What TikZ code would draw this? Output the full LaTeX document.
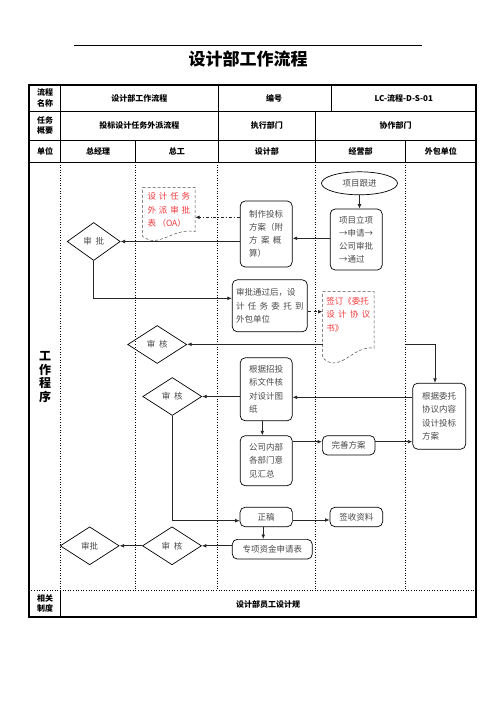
\documentclass[tikz,border=0pt]{standalone}
\usepackage{fontspec}
\setmainfont{Noto Sans CJK SC}
\usetikzlibrary{shapes.geometric,arrows.meta}
\definecolor{boxtext}{HTML}{4A4A4A}
\definecolor{doctext}{HTML}{F0383C}
\tikzset{
  hdr/.style={font=\bfseries\fontsize{8}{10.5}\selectfont, align=center, inner sep=0pt},
  box/.style={draw=black, line width=0.7pt, rounded corners=5pt, align=left, inner sep=0pt,
              text=boxtext, font=\fontsize{8.5}{13.2}\selectfont},
  dia/.style={draw=black, line width=0.7pt, diamond, inner sep=0pt, minimum width=59pt,
              minimum height=38pt, text=boxtext, font=\fontsize{8.5}{10}\selectfont},
  doctxt/.style={align=left, inner sep=0pt, text=doctext, font=\fontsize{8.5}{13.3}\selectfont},
  docshape/.style={draw=black!70, densely dashed, line width=0.5pt},
  arr/.style={-{Latex[length=4.5pt,width=3.8pt]}, line width=0.8pt, draw=black!85},
  lane/.style={line width=0.6pt, dotted},
  rule/.style={line width=0.7pt}
}
\begin{document}
\begin{tikzpicture}[x=1pt,y=-1pt]
\useasboundingbox (0,0) rectangle (496,702);
\fill[white] (0,0) rectangle (496,702);

% title
\draw[line width=0.8pt] (74,45) -- (422,45);
\node[font=\bfseries\fontsize{17}{17}\selectfont, inner sep=0pt] (title) at (248,58.5) {设计部工作流程};

% table frame
\draw[rule] (28.7,111) -- (476,111);
\draw[rule] (28.7,140) -- (476,140);
\draw[rule] (28.7,162) -- (476,162);
\draw[lane] (28.7,590) -- (476,590);
\foreach \x in {60.7,218,331.7} \draw[rule] (\x,85) -- (\x,111);
\foreach \x in {60.7,218,315.7} \draw[rule] (\x,111) -- (\x,140);
\foreach \x in {60.7,135.7,218,315.7,405.7} \draw[rule] (\x,140) -- (\x,162);
\foreach \x in {60.7,135.7,217.3,315.7,405.7} \draw[lane] (\x,162) -- (\x,590);
\draw[rule] (60.7,590) -- (60.7,617);
\draw[line width=1.6pt] (28.7,85) rectangle (476,617);

% header texts
\node[hdr] (h1) at (45,98) {流程\\名称};
\node[hdr] (h2) at (139.4,98) {设计部工作流程};
\node[hdr] (h3) at (274,98) {编号};
\node[hdr] (h4) at (403.8,98) {LC-流程-D-S-01};
\node[hdr] (h5) at (45,125.5) {任务\\概要};
\node[hdr] (h6) at (139.4,125.5) {投标设计任务外派流程};
\node[hdr] (h7) at (266.8,125.5) {执行部门};
\node[hdr] (h8) at (395.7,125.5) {协作部门};
\node[hdr] (u0) at (45,151) {单位};
\node[hdr] (u1) at (98.2,151) {总经理};
\node[hdr] (u2) at (176.8,151) {总工};
\node[hdr] (u3) at (266.8,151) {设计部};
\node[hdr] (u4) at (360.7,151) {经营部};
\node[hdr] (u5) at (440.8,151) {外包单位};
\node[font=\bfseries\fontsize{12}{13.7}\selectfont, align=center, inner sep=0pt] (lbl) at (45,377) {工\\作\\程\\序};
\node[hdr] (b1) at (45,603.5) {相关\\制度};
\node[hdr] (b2) at (268,604) {设计部员工设计规};

% flow nodes
\node[draw=black, line width=0.7pt, ellipse, minimum width=76pt, minimum height=23pt, inner sep=0pt,
      text=boxtext, font=\fontsize{8.5}{10}\selectfont] (gj) at (359.5,183.3) {项目跟进};
\node[box, minimum width=52pt, minimum height=61pt] (lx) at (356.2,239.5) {项目立项\\→申请→\\公司审批\\→通过};
\node[box, minimum width=52pt, minimum height=66pt] (zz) at (266.2,234) {制作投标\\方案（附\\方\,\ 案\,\ 概\\算）};

% document 1
\draw[docshape] (142.7,187.3) -- (195,187.3) -- (195,231.7)
   .. controls (178,228) and (165,241) .. (153,240.5)
   .. controls (149,240.2) and (145.5,238.5) .. (142.7,236.5) -- cycle;
\node[inner sep=0pt, minimum width=52.3pt, minimum height=44.4pt] (oa) at (168.85,209.5) {};
\node[doctxt] (oat) at (168.85,210) {设\,\,计\,\,任\,\,务\\外\,\,派\,\,审\,\,批\\表\,（OA）};

\node[dia, minimum width=53pt] (sp1) at (93.7,241.5) {审\ \ 批};
\node[box, minimum width=75pt, minimum height=52pt] (tg) at (269.8,305.8) {审批通过后，设\\计\,\ 任\,\ 务\,\ 委\,\ 托\,\ 到\\外包单位};

% document 2
\draw[docshape] (322.7,291.7) -- (374,291.7) -- (374,348.3)
   .. controls (358,345) and (345,364) .. (333,363)
   .. controls (328.5,362.6) and (325.5,360.5) .. (322.7,357.5) -- cycle;
\node[inner sep=0pt, minimum width=51.3pt, minimum height=56.6pt] (qd) at (348.35,320) {};
\node[doctxt] (qdt) at (348.35,314.7) {签订《委托\\设\,\ 计\,\ 协\,\ 议\\书》};

\node[dia] (sh1) at (157.2,344.5) {审\ \ 核};
\node[box, minimum width=53pt, minimum height=66pt] (gw) at (439.2,416.2) {根据委托\\协议内容\\设计投标\\方案};
\node[box, minimum width=52pt, minimum height=63pt] (gz) at (266.2,389.3) {根据招投\\标文件核\\对设计图\\纸};
\node[dia] (sh2) at (172.3,396.5) {审\ \ 核};
\node[box, minimum width=52pt, minimum height=50pt] (gs) at (266.2,460.7) {公司内部\\各部门意\\见汇总};
\node[box, minimum width=52.7pt, minimum height=19.3pt] (ws) at (348.7,445.3) {完善方案};
\node[box, minimum width=52.3pt, minimum height=19.4pt] (zg) at (266.2,517) {正稿};
\node[box, minimum width=52.7pt, minimum height=19.4pt] (qs) at (356.3,517) {签收资料};
\node[box, minimum width=80pt, minimum height=19.7pt] (zx) at (272.3,549.2) {专项资金申请表};
\node[dia] (sh3) at (172,545.8) {审\ \ 核};
\node[dia] (sp2) at (89.7,545.8) {审批};

% connectors
\draw[arr] (gj.south) -- (gj.south |- lx.north);
\draw[arr] (lx.west |- 0,238.3) -- (zz.east |- 0,238.3);
\draw[arr, dash dot] (zz.west |- 0,217.3) -- (oa.east |- 0,217.3);
\draw[arr] (zz.west |- sp1.east) -- (sp1.east);
\draw[arr] (sp1.south) |- (tg.west |- 0,298.3);
\draw[arr, dashed] (tg.east |- 0,311.7) -- (qd.west |- 0,311.7);
\draw[arr] (qd.west |- 0,344.3) -- (sh1.east |- 0,344.3);
\coordinate (c1) at (405.7,344.3);
\draw[arr] (c1) -| (gw.north -| 435,0);
\draw[arr] (gw.west |- 0,397.3) -- (gz.east |- 0,397.3);
\draw[arr] (gz.west |- sh2.east) -- (sh2.east);
\draw[arr] (sh2.south) |- (zg.west |- 0,520.7);
\draw[arr] (gz.south -| 262.3,0) -- (gs.north -| 262.3,0);
\draw[arr] (gs.east |- 0,441.7) -- (ws.west |- 0,441.7);
\draw[arr] (ws.east |- 0,441.7) -- (gw.west |- 0,441.7);
\draw[arr] (zg.east |- 0,520) -- (qs.west |- 0,520);
\draw[arr] (zg.south -| 263.3,0) -- (zx.north -| 263.3,0);
\draw[arr] (zx.west |- sh3.east) -- (sh3.east);
\draw[arr] (sh3.west) -- (sp2.east);
\end{tikzpicture}
\end{document}
